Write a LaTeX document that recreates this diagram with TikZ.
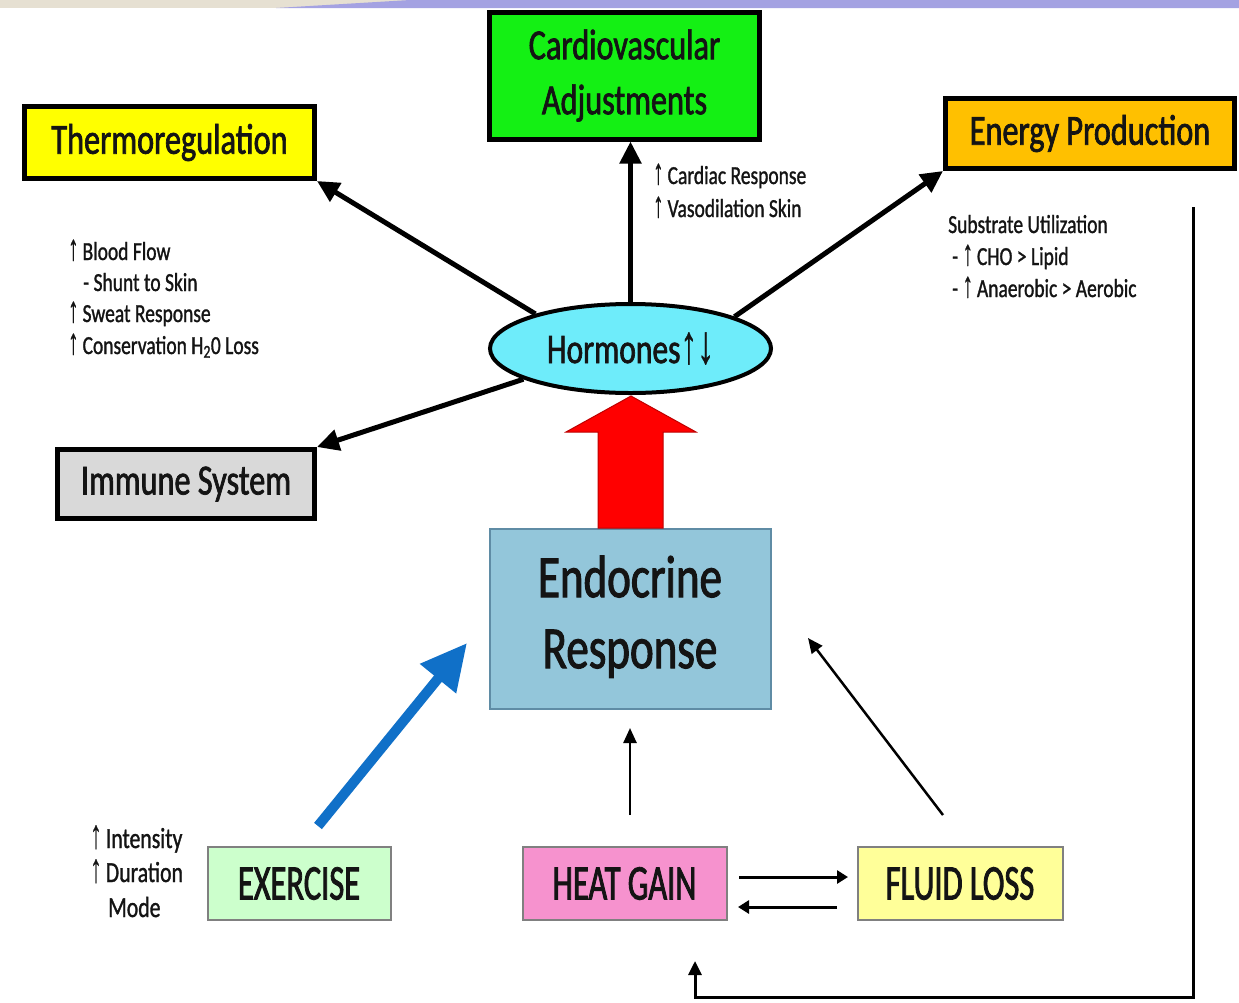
\documentclass[tikz,border=0pt]{standalone}
\usepackage{fontspec}
\setmainfont{Carlito}
\newfontfamily\lbl[FakeStretch=0.75,FakeBold=1.6]{Carlito}
\newfontfamily\lblnarrow[FakeStretch=0.65,FakeBold=1.6]{Carlito}
\newfontfamily\notefont[FakeStretch=0.75,FakeBold=1.1]{Carlito}
\newfontfamily\arw[FakeStretch=0.8,FakeBold=0.8]{Liberation Sans}
\usetikzlibrary{arrows.meta,shapes.geometric}

\definecolor{bandbeige}{RGB}{230,224,210}
\definecolor{bandlav}{RGB}{164,162,226}
\definecolor{cvgreen}{RGB}{20,240,20}
\definecolor{thyellow}{RGB}{255,255,0}
\definecolor{engold}{RGB}{255,192,0}
\definecolor{imgray}{RGB}{217,217,217}
\definecolor{hocyan}{RGB}{110,236,250}
\definecolor{enblue}{RGB}{147,198,218}
\definecolor{enborder}{RGB}{95,140,165}
\definecolor{exgreen}{RGB}{204,255,204}
\definecolor{htpink}{RGB}{246,146,206}
\definecolor{flyellow}{RGB}{255,255,153}
\definecolor{boxgray}{RGB}{128,128,128}
\definecolor{arrowblue}{RGB}{16,112,200}
\definecolor{darkred}{RGB}{190,0,0}
\definecolor{ink}{RGB}{20,20,20}

\tikzset{
  topbox/.style={draw=black, line width=5pt, inner sep=0pt, text=ink,
    font=\lbl\fontsize{43}{55}\selectfont, align=center},
  lowbox/.style={draw=boxgray, line width=2pt, inner sep=0pt, text=ink,
    minimum width=203pt, minimum height=73pt,
    font=\lblnarrow\fontsize{50}{56}\selectfont},
  note/.style={anchor=base west, inner sep=0pt, text=ink,
    font=\notefont\fontsize{26}{31}\selectfont},
  bignote/.style={anchor=base west, inner sep=0pt, text=ink,
    font=\notefont\fontsize{29}{34}\selectfont},
  bigarrow/.style={line width=5pt, -{Triangle[length=22pt,width=21pt]}},
  thinarrow/.style={line width=2.5pt, -{Triangle[length=15pt,width=13pt]}},
}
% tall, thin arrow glyphs (taking no vertical room in the line)
\newcommand{\up}{\smash{\scalebox{1}[1.4]{\arw ↑}}\hspace{4pt}}
\newcommand{\hup}{\scalebox{1}[1.3]{\arw ↑}}
\newcommand{\hdown}{\scalebox{1}[1.3]{\arw ↓}}

\begin{document}
\begin{tikzpicture}[x=1pt,y=-1pt]
\useasboundingbox (0,0) rectangle (1239,1002);
\fill[white] (0,0) rectangle (1239,1002);

% header strip
\fill[bandbeige] (0,0) rectangle (1239,8);
\fill[bandlav] (276,8) -- (410,0) -- (1239,0) -- (1239,8) -- cycle;

% outcome boxes
\node[topbox, fill=cvgreen, minimum width=270pt, minimum height=127pt]
  (cardio) at (624.5,75.5) {Cardiovascular\\Adjustments};
\node[topbox, fill=thyellow, minimum width=290pt, minimum height=72pt]
  (thermo) at (169.5,142.5) {Thermoregulation};
\node[topbox, fill=engold, minimum width=289pt, minimum height=70pt]
  (energy) at (1090,133.5) {Energy Production};
\node[topbox, fill=imgray, minimum width=257pt, minimum height=69pt]
  (immune) at (186,484) {Immune System};

% hormones
\node[ellipse, draw=black, line width=4pt, fill=hocyan, inner sep=0pt,
  minimum width=281pt, minimum height=89pt, text=ink,
  font=\lbl\fontsize{42}{48}\selectfont]
  (horm) at (630.5,348.5) {Hormones\hup\hdown};

% endocrine response
\node[draw=enborder, line width=2pt, fill=enblue, inner sep=0pt,
  minimum width=281pt, minimum height=180pt, text=ink,
  font=\lbl\fontsize{60}{71}\selectfont]
  (endo) at (630,618.5)
  {\raisebox{-7pt}{\begin{tabular}{@{}c@{}}Endocrine\\Response\end{tabular}}};

% stressors
\node[lowbox, fill=exgreen, minimum width=183pt] (exer) at (299,883.5) {EXERCISE};
\node[lowbox, fill=htpink, minimum width=204pt] (heat) at (624.5,883.5) {HEAT GAIN};
\node[lowbox, fill=flyellow, minimum width=205pt] (fluid) at (960,883.5) {FLUID LOSS};

% hormone outputs
\draw[bigarrow] (horm.north) -- (horm.north |- cardio.south);
\draw[bigarrow] (horm.160) -- (thermo.south east);
\draw[bigarrow] (horm.17) -- (energy.south west);
\draw[bigarrow] (horm.196) -- (immune.north east);

% endocrine -> hormones block arrow
\fill[red, draw=darkred, line width=1pt]
  (598,528) -- (598,432) -- (566,432) -- (631,396) -- (696,432)
  -- (663,432) -- (663,528) -- cycle;

% inputs to endocrine response
\coordinate (exs) at (318,826);
\coordinate (ext) at (467,643);
\draw[arrowblue, line width=10pt, -{Triangle[length=46pt,width=44pt]}] (exs) -- (ext);
\coordinate (hts) at (630,815);
\coordinate (htt) at (630,728);
\draw[thinarrow] (hts) -- (htt);
\coordinate (fls) at (943,815);
\coordinate (flt) at (808,638);
\draw[thinarrow] (fls) -- (flt);

% heat gain <-> fluid loss
\coordinate (hf1) at (739,877);
\coordinate (hf2) at (848,877);
\coordinate (fh1) at (837,907);
\coordinate (fh2) at (738,907);
\draw[line width=3pt, -{Triangle[length=11pt,width=13pt]}] (hf1) -- (hf2);
\draw[line width=3pt, -{Triangle[length=11pt,width=13pt]}] (fh1) -- (fh2);

% feedback loop
\coordinate (fbtop) at (1193,207);
\coordinate (fbend) at (695,961);
\draw[line width=3pt, -{Triangle[length=14pt,width=13pt]}]
  (fbtop) -- (1193,997) -- (695,997) -- (fbend);

% annotations
\node[note] (t1) at (68,260) {\up Blood Flow};
\node[note] (t2) at (83,291) {- Shunt to Skin};
\node[note] (t3) at (68,322) {\up Sweat Response};
\node[note] (t4) at (68,354) {\up Conservation H\textsubscript{2}0 Loss};

\node[note] (c1) at (653,184) {\up Cardiac Response};
\node[note] (c2) at (653,217) {\up Vasodilation Skin};

\node[note] (e1) at (948,233) {Substrate Utilization};
\node[note] (e2) at (952,265) {- \up CHO > Lipid};
\node[note] (e3) at (952,297) {- \up Anaerobic > Aerobic};

\node[bignote] (x1) at (90,848) {\up Intensity};
\node[bignote] (x2) at (90,882) {\up Duration};
\node[bignote] (x3) at (108,917) {Mode};
\end{tikzpicture}
\end{document}
